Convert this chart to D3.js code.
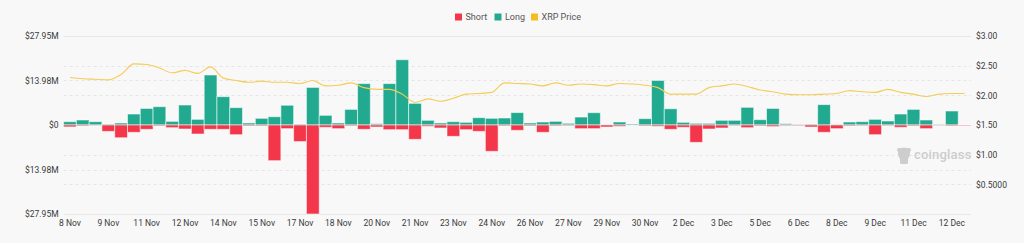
<!DOCTYPE html>
<html><head><meta charset="utf-8">
<script src="https://cdn.jsdelivr.net/npm/d3@7/dist/d3.min.js"></script>
<style>
html,body{margin:0;padding:0;background:#f8f8f8;}
svg{display:block;font-family:Roboto,"Noto Sans",sans-serif;}
</style></head><body>
<svg id="c" width="1024" height="243"></svg>
<script>
const categories = ["11-08 00:00","11-08 12:00","11-09 00:00","11-09 12:00","11-10 00:00","11-10 12:00","11-11 00:00","11-11 12:00","11-12 00:00","11-12 12:00","11-13 00:00","11-13 12:00","11-14 00:00","11-14 12:00","11-15 00:00","11-15 12:00","11-16 00:00","11-16 12:00","11-17 00:00","11-17 12:00","11-18 00:00","11-18 12:00","11-19 00:00","11-19 12:00","11-20 00:00","11-20 12:00","11-21 00:00","11-21 12:00","11-22 00:00","11-22 12:00","11-23 00:00","11-23 12:00","11-24 00:00","11-24 12:00","11-25 00:00","11-25 12:00","11-26 00:00","11-26 12:00","11-27 00:00","11-27 12:00","11-28 00:00","11-28 12:00","11-29 00:00","11-29 12:00","11-30 00:00","11-30 12:00","12-01 00:00","12-01 12:00","12-02 00:00","12-02 12:00","12-03 00:00","12-03 12:00","12-04 00:00","12-04 12:00","12-05 00:00","12-05 12:00","12-06 00:00","12-06 12:00","12-07 00:00","12-07 12:00","12-08 00:00","12-08 12:00","12-09 00:00","12-09 12:00","12-10 00:00","12-10 12:00","12-11 00:00","12-11 12:00","12-12 00:00","12-12 12:00","12-13 00:00"];
// Long liquidations (USD millions)
const longVals = [1.05,1.57,1.05,0.3,0.63,3.45,5.2,5.76,1.15,6.28,1.78,15.7,8.9,5.45,0.63,2.1,2.6,6.2,0.3,11.8,3.04,0.63,4.9,13.0,0.42,13.0,20.5,6.8,1.47,0.63,1.05,0.84,2.3,2.1,2.2,3.9,0.63,0.94,1.15,0.52,2.5,3.87,0.1,0.94,0.3,2.0,14.0,5.1,0.84,0.52,0.52,1.47,1.47,5.55,1.67,5.2,0.42,0.2,0.3,6.4,0.2,0.94,1.05,1.78,1.26,3.45,4.9,1.57,0.2,4.4,0];
// Short liquidations (USD millions, drawn below zero)
const shortVals = [0.6,0.3,0.1,2.0,4.0,2.3,1.36,0.3,0.84,1.26,2.83,1.36,1.36,3.04,0.3,0.3,11.2,1.15,5.2,27.95,0.73,1.15,0.3,1.36,0.63,1.47,1.47,4.5,0.42,0.94,3.56,1.47,2.0,8.27,0.3,1.67,0.3,2.3,0.3,0.2,1.15,1.15,0.63,0.42,0,0.3,0.42,1.36,0.73,5.45,1.26,0.94,0.2,0.84,0.3,0.5,0.2,0.2,0.63,2.3,1.15,0.3,0.2,3.04,0.2,0.73,0.3,1.15,0.1,0.3,0.2];
// XRP price (USD)
const priceVals = [2.30,2.28,2.27,2.26,2.35,2.53,2.52,2.46,2.38,2.42,2.37,2.48,2.29,2.25,2.22,2.24,2.22,2.22,2.20,2.25,2.16,2.17,2.21,2.13,2.10,2.10,2.02,1.88,1.94,1.90,1.95,2.02,2.03,2.05,2.21,2.20,2.19,2.16,2.21,2.17,2.19,2.18,2.16,2.20,2.19,2.17,2.13,2.02,2.02,2.02,2.13,2.16,2.19,2.15,2.09,2.06,2.02,2.01,2.01,2.02,2.03,2.08,2.06,2.05,2.10,2.05,2.02,1.98,2.02,2.03,2.03];
const xTickLabels = ["8 Nov","9 Nov","11 Nov","12 Nov","14 Nov","15 Nov","17 Nov","18 Nov","20 Nov","21 Nov","23 Nov","24 Nov","26 Nov","27 Nov","29 Nov","30 Nov","2 Dec","3 Dec","5 Dec","6 Dec","8 Dec","9 Dec","11 Dec","12 Dec"];
const leftTickValues = [27.95,13.98,0,-13.98,-27.95];
const leftTickLabels = ["$27.95M","$13.98M","$0","$13.98M","$27.95M"];
const rightTickValues = [3,2.5,2,1.5,1,0.5];
const rightTickLabels = ["$3.00","$2.50","$2.00","$1.50","$1.00","$0.5000"];
const legendItems = ["Short","Long","XRP Price"];

(function(){
const colors = {Short:"#f4364a", Long:"#21aa8f", "XRP Price":"#f5bd1f"};
const svg = d3.select("#c");
const pL = 63.6, pR = 971, pT = 36, pB = 214;

const x = d3.scaleBand().domain(categories).range([pL, pR]).padding(0);
const yL = d3.scaleLinear().domain([-27.95, 27.95]).range([pB, pT]);
const yR = d3.scaleLinear().domain([0, 3]).range([pB, pT]);

// gridlines
const grid = svg.append("g");
const gridYs = Array.from(new Set([...leftTickValues.map(v=>yL(v)), ...rightTickValues.map(v=>yR(v)), yR(0)].map(v=>Math.round(v))));
gridYs.forEach(gy=>{
  const edge = Math.abs(gy-pT)<1 || Math.abs(gy-pB)<1;
  grid.append("line").attr("x1",pL).attr("x2",pR).attr("y1",gy+0.5).attr("y2",gy+0.5)
    .attr("stroke", edge? "#e8e8e8":"#e6e6e6").attr("stroke-width",1)
    .attr("stroke-dasharray", edge? null : "3,3");
});

// watermark
const wm = svg.append("g").attr("fill","#cdcdcd");
wm.append("ellipse").attr("cx",904).attr("cy",154).attr("rx",6).attr("ry",6.5);
wm.append("rect").attr("x",900).attr("y",157).attr("width",8).attr("height",7).attr("rx",1.5);
wm.append("rect").attr("x",897).attr("y",148).attr("width",14).attr("height",4).attr("rx",2);
wm.append("text").attr("x",914).attr("y",159).attr("font-size",13).attr("font-weight",500).attr("letter-spacing",0.2).text("coinglass");

// bars
const bw = x.bandwidth();
svg.append("g").selectAll("rect").data(categories).join("rect")
  .attr("x",d=>x(d)).attr("width",bw)
  .attr("y",(d,i)=>yL(longVals[i])).attr("height",(d,i)=>Math.max(0,yL(0)-yL(longVals[i])))
  .attr("fill",colors.Long).attr("stroke","rgba(255,255,255,0.55)").attr("stroke-width",1);
svg.append("g").selectAll("rect").data(categories).join("rect")
  .attr("x",d=>x(d)).attr("width",bw)
  .attr("y",yL(0)).attr("height",(d,i)=>Math.max(0,yL(-shortVals[i])-yL(0)))
  .attr("fill",colors.Short).attr("stroke","rgba(255,255,255,0.55)").attr("stroke-width",1);

// price line
const line = d3.line().x((d,i)=>x(categories[i])+bw/2).y(d=>yR(d)).curve(d3.curveMonotoneX);
svg.append("path").datum(priceVals).attr("d",line).attr("fill","none")
  .attr("stroke","#f5cc55").attr("stroke-width",1.1);

// axes
const axL = svg.append("g").attr("transform",`translate(${pL-5},0)`)
  .call(d3.axisLeft(yL).tickValues(leftTickValues).tickFormat((d,i)=>leftTickLabels[i]).tickSize(0).tickPadding(0));
const axR = svg.append("g").attr("transform",`translate(${pR+5},0)`)
  .call(d3.axisRight(yR).tickValues(rightTickValues).tickFormat((d,i)=>rightTickLabels[i]).tickSize(0).tickPadding(0));
const xTickVals = categories.filter((d,i)=>i%3===0);
const axB = svg.append("g").attr("transform",`translate(0,${pB+3})`)
  .call(d3.axisBottom(x).tickValues(xTickVals).tickFormat((d,i)=>xTickLabels[i]).tickSize(0).tickPadding(3));
[axL,axR,axB].forEach(a=>{
  a.select(".domain").remove();
  a.selectAll("text").attr("font-size",8.5).attr("fill","#3a3a3a").attr("font-family","Roboto,'Noto Sans',sans-serif");
});

// legend
const leg = svg.append("g");
const legX = [455, 494.5, 531];
legendItems.forEach((name,i)=>{
  const g = leg.append("g").attr("transform",`translate(${legX[i]},13.5)`);
  g.append("rect").attr("width",7).attr("height",7).attr("fill",colors[name]);
  g.append("text").attr("x",10.5).attr("y",6.8).attr("font-size",9).attr("fill","#555").text(name);
});
})();
</script>
</body></html>
